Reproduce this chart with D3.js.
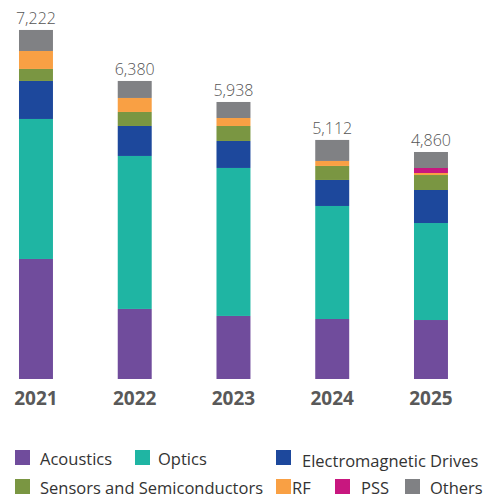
<!DOCTYPE html>
<html><head><meta charset="utf-8">
<script src="https://cdn.jsdelivr.net/npm/d3@7"></script>
<style>body{margin:0;background:#fff}svg{display:block}</style>
</head><body>
<svg id="c" width="489" height="501"></svg>
<script>
const years = ["2021","2022","2023","2024","2025"];
const totals = [7222, 6380, 5938, 5112, 4860];
const seriesNames = ["Acoustics","Optics","Electromagnetic Drives","Sensors and Semiconductors","RF","PSS","Others"];
const acoustics = [2570, 1500, 1350, 1285, 1263];
const optics    = [2998, 3276, 3169, 2420, 2077];
const emDrives  = [814, 642, 578, 557, 707];
const sensors   = [257, 300, 321, 300, 321];
const rf        = [385, 300, 171, 107, 43];
const pss       = [0, 0, 0, 0, 107];
const others    = [450, 364, 343, 450, 343];
const colors = ["#704c9c","#1fb5a3","#1d489c","#7a9642","#f9a044","#c8177f","#808184"];

const seriesVals = [acoustics, optics, emDrives, sensors, rf, pss, others];
const rows = years.map((y,i)=>{const r={year:y}; seriesNames.forEach((s,j)=>r[s]=seriesVals[j][i]); return r;});
const stack = d3.stack().keys(seriesNames)(rows);

const svg = d3.select("#c");
const base = 379;
const k = 0.0467;
const y = d3.scaleLinear().domain([0, 8000]).range([base, base - 8000*k]);
const x = d3.scaleBand().domain(years).range([-13.4, 480.35]).paddingInner(0.656).paddingOuter(0.328);

svg.append("g").selectAll("g").data(stack).join("g")
  .attr("fill",(d,i)=>colors[i])
  .selectAll("rect").data(d=>d).join("rect")
  .attr("x",d=>x(d.data.year))
  .attr("width",x.bandwidth())
  .attr("y",d=>y(d[1]))
  .attr("height",d=>y(d[0])-y(d[1]));

const tops = rows.map(r=>d3.sum(seriesNames,s=>r[s]));
svg.append("g").selectAll("text").data(years).join("text")
  .attr("x",d=>x(d)+x.bandwidth()/2)
  .attr("y",(d,i)=>y(tops[i])-5.5)
  .attr("text-anchor","middle")
  .attr("font-family","'Open Sans', sans-serif")
  .attr("font-weight",300)
  .attr("font-size",16)
  .attr("fill","#555")
  .text((d,i)=>d3.format(",")(totals[i]));

const xAxis = svg.append("g").attr("transform",`translate(0,${base})`)
  .call(d3.axisBottom(x).tickSize(0).tickPadding(13));
xAxis.select(".domain").remove();
xAxis.selectAll("text")
  .attr("font-family","'Open Sans', sans-serif")
  .attr("font-weight",700)
  .attr("font-size",19)
  .attr("fill","#595959");

const legendPos = [[15,450],[135,450],[276,450],[15,479],[276,479],[335,479],[405,479]];
const legendTextDx = [25,23,26,25,16,26,25];
const lg = svg.append("g").selectAll("g").data(seriesNames).join("g")
  .attr("transform",(d,i)=>`translate(${legendPos[i][0]},${legendPos[i][1]})`);
lg.append("rect").attr("width",15).attr("height",15).attr("fill",(d,i)=>colors[i]);
lg.append("text").attr("x",(d,i)=>legendTextDx[i]).attr("y",(d,i)=> i===2?17:15)
  .attr("font-family","'Open Sans', sans-serif").attr("font-size",16.5).attr("fill","#333")
  .text(d=>d);
</script>
</body></html>
